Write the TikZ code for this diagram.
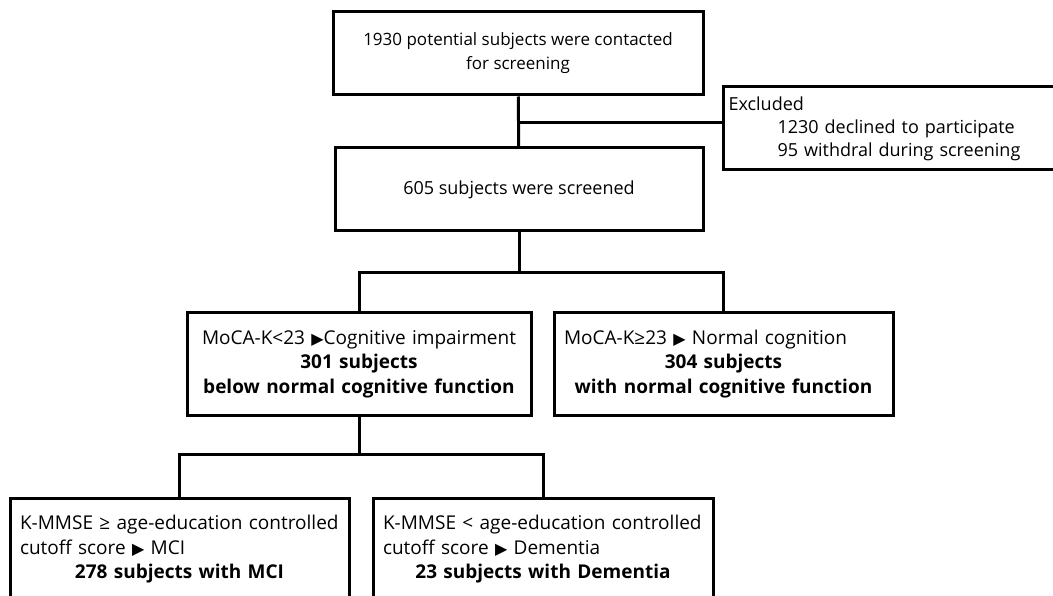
\documentclass[tikz,border=0pt]{standalone}
\usepackage{fontspec}
\setmainfont{Open Sans}
\newfontfamily\symfont{DejaVu Sans}
\usepackage{tikz}
\usetikzlibrary{positioning}
\tikzstyle{box} = [draw, rectangle, line width=3pt, inner xsep=10pt,
    inner ysep=4pt, font=\fontsize{18}{24.5}\selectfont]
\tikzstyle{lowbox} = [box, font=\fontsize{19}{24.5}\selectfont, align=center,
    minimum height=102pt]
\tikzstyle{link} = [line width=3pt]
\newcommand{\tri}{{\symfont\fontsize{16}{16}\selectfont ▶}}
\newcommand{\lft}[1]{\makebox[\linewidth][l]{#1}}

\begin{document}
\begin{tikzpicture}[x=1pt, y=-1pt]
  \clip (0,0) rectangle (1053,596);
  \node [box, minimum width=370pt, minimum height=83pt, align=center,
    font=\fontsize{17}{24}\selectfont] (c11) at (518,53.5)
  {1930 potential subjects were contacted\\for screening};
  \node [box, minimum width=368pt, minimum height=83pt, align=center] (c21) at (519,189.5)
  {605 subjects were screened};
  \node [box, anchor=west, text width=330pt, minimum height=83pt, align=left,
    inner xsep=5pt, font=\fontsize{18}{23}\selectfont] (c12) at (722,128.5)
  {Excluded\\\hspace*{49pt}1230 declined to participate\\\hspace*{49pt}95 withdral during screening};
  % second level
  \node [lowbox, text width=324pt] (c31) at (359,364)
  {MoCA-K<23 \tri Cognitive impairment\\\textbf{301 subjects}\\\textbf{below normal cognitive function}};
  \node [lowbox, text width=319pt] (c32) at (723.5,364)
  {\lft{MoCA-K≥23 \tri\ Normal cognition}\\\textbf{304 subjects}\\\textbf{with normal cognitive function}};
  % third level
  \node [lowbox, anchor=north, text width=319pt] (c41) at (179.5,497)
  {\lft{K-MMSE ≥ age-education controlled}\\\lft{cutoff score \tri\ MCI}\\\textbf{278 subjects with MCI}};
  \node [lowbox, anchor=north, text width=320pt] (c42) at (543,497)
  {\lft{K-MMSE < age-education controlled}\\\lft{cutoff score \tri\ Dementia}\\\textbf{23 subjects with Dementia}};
  \coordinate (j1) at (519,123);
  \coordinate (j2) at (519,273);
  \coordinate (j3) at (359,454);
  \draw [link] (c11) -- (c21);
  \draw [link] (j1) -- (j1 -| c12.west);
  \draw [link] (c21) -- (j2);
  \draw [link] (c31.north) |- (j2) -| (c32.north);
  \draw [link] (c31) -- (j3);
  \draw [link] (c41.north) |- (j3) -| (c42.north);
\end{tikzpicture}
\end{document}
